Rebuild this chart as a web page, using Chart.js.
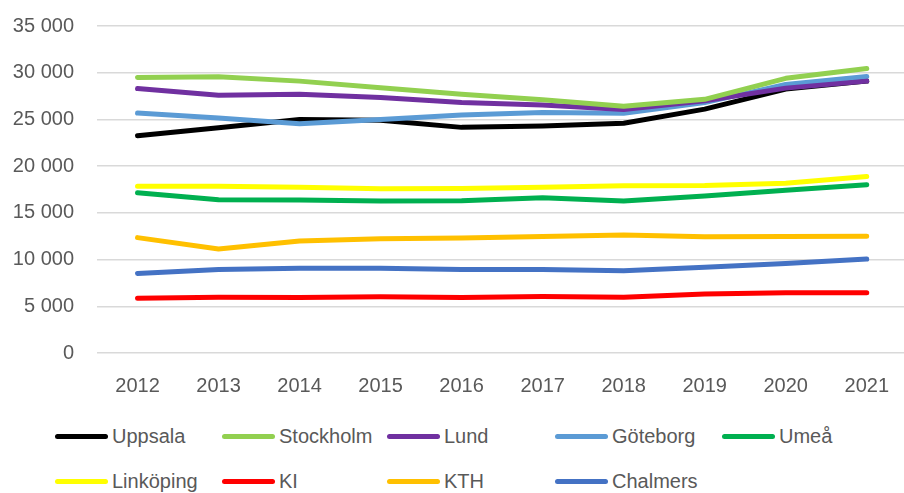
<!DOCTYPE html>
<html>
<head>
<meta charset="utf-8">
<script src="https://cdn.jsdelivr.net/npm/chart.js@4.4.1/dist/chart.umd.min.js"></script>
<style>
  html, body { margin: 0; padding: 0; background: #fff; overflow: hidden; width: 904px; height: 493px; }
  #wrap { position: relative; width: 904px; height: 493px; overflow: hidden; }
  #c { position: absolute; left: 0; top: -9px; }
  .leg { position: absolute; display: flex; align-items: center; font-family: "Liberation Sans", Arial, sans-serif; font-size: 20px; color: #595959; white-space: nowrap; }
  .leg i { display: inline-block; width: 53px; height: 5px; border-radius: 3px; margin-right: 4px; }
</style>
</head>
<body>
<div id="wrap">
  <canvas id="c" width="910" height="419"></canvas>
  <div id="legend"></div>
</div>
<script>
const years = ['2012', '2013', '2014', '2015', '2016', '2017', '2018', '2019', '2020', '2021'];

const uppsala   = [23250, 24100, 25000, 24900, 24150, 24300, 24600, 26100, 28250, 29100];
const stockholm = [29480, 29560, 29100, 28400, 27700, 27100, 26400, 27150, 29400, 30450];
const lund      = [28300, 27600, 27700, 27350, 26800, 26550, 26050, 27000, 28350, 29100];
const goteborg  = [25680, 25150, 24550, 25000, 25480, 25750, 25650, 26800, 28750, 29600];
const umea      = [17150, 16400, 16380, 16280, 16300, 16620, 16280, 16800, 17420, 18020];
const linkoping = [17850, 17850, 17750, 17580, 17600, 17750, 17900, 17920, 18180, 18900];
const ki        = [5850, 5980, 5950, 6020, 5950, 6050, 5980, 6320, 6450, 6450];
const kth       = [12350, 11130, 11980, 12230, 12320, 12460, 12620, 12450, 12460, 12500];
const chalmers  = [8520, 8930, 9080, 9080, 8940, 8940, 8800, 9180, 9580, 10050];

const names  = ['Uppsala', 'Stockholm', 'Lund', 'Göteborg', 'Umeå', 'Linköping', 'KI', 'KTH', 'Chalmers'];
const series = [uppsala, stockholm, lund, goteborg, umea, linkoping, ki, kth, chalmers];
const colors = ['#000000', '#92D050', '#7030A0', '#5B9BD5', '#00B050', '#FFFF00', '#FF0000', '#FFC000', '#4472C4'];

// draw order: lowest first in reference stacking
const drawOrder = [5, 4, 7, 8, 6, 0, 3, 2, 1];

const fmt = (v) => String(v).replace(/\B(?=(\d{3})+(?!\d))/g, ' ');
const font = { family: '"Liberation Sans", Arial, sans-serif', size: 20 };

const datasets = names.map((n, i) => ({
  label: n,
  data: series[i],
  borderColor: colors[i],
  backgroundColor: colors[i],
  borderWidth: 5,
  borderCapStyle: 'round',
  borderJoinStyle: 'round',
  pointRadius: 0,
  tension: 0,
  order: drawOrder.length - drawOrder.indexOf(i)
}));

new Chart(document.getElementById('c'), {
  type: 'line',
  data: { labels: years, datasets },
  options: {
    responsive: false,
    animation: false,
    layout: { padding: { top: 14, left: 0, right: 0, bottom: 0 } },
    plugins: { legend: { display: false }, tooltip: { enabled: false } },
    scales: {
      x: {
        offset: true,
        grid: { display: false, drawTicks: false },
        border: { display: false },
        ticks: { color: '#595959', font, padding: 21 },
        afterFit: (s) => { s.height = 57; }
      },
      y: {
        min: 0, max: 35000,
        grid: { color: '#d9d9d9', lineWidth: 1.5, drawTicks: false },
        border: { display: false },
        ticks: {
          stepSize: 5000,
          color: '#595959',
          font,
          padding: 23,
          callback: (v) => fmt(v)
        },
        afterFit: (s) => { s.width = 97; }
      }
    }
  }
});

// legend in two rows, fixed columns like the reference
const legend = document.getElementById('legend');
const cols = [55, 222, 387, 555, 722];
names.forEach((n, i) => {
  const d = document.createElement('div');
  d.className = 'leg';
  d.style.left = cols[i % 5] + 'px';
  d.style.top = (i < 5 ? 437 : 482) - 12 + 'px';
  d.innerHTML = `<i style="background:${colors[i]}"></i>${n}`;
  legend.appendChild(d);
});
</script>
</body>
</html>
